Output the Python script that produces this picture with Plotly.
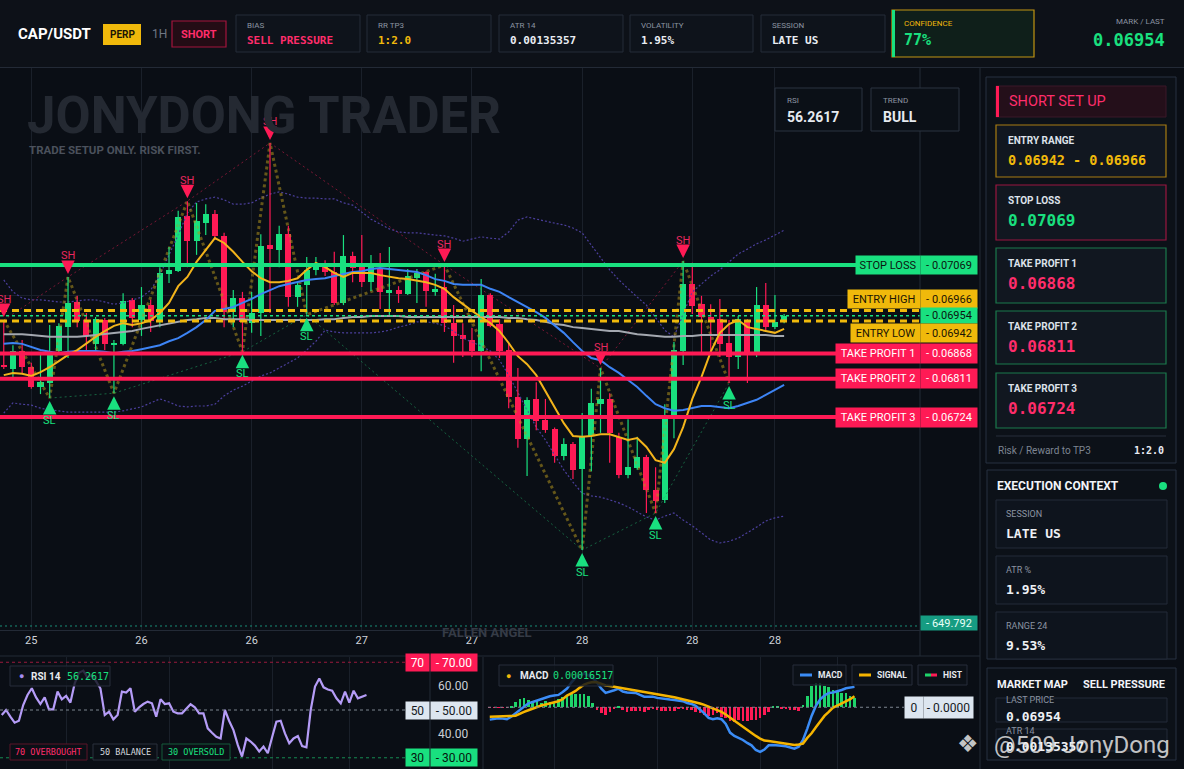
import plotly.graph_objects as go

W, H = 1184, 769
UI = "Roboto, 'Open Sans', sans-serif"
MONO = "'DejaVu Sans Mono', 'Liberation Mono', monospace"

# ---------------- data ----------------
date_tick_pos = [3, 15, 27, 39, 51, 63, 75, 84]
date_tick_text = ["25", "26", "26", "27", "27", "28", "28", "28"]
osc_tick_pos = [15, 39, 63, 81]

open_ = [0.06842, 0.06833, 0.06874, 0.06837, 0.06792, 0.06801, 0.06874, 0.06928, 0.06985, 0.06944,
         0.06890, 0.06944, 0.06889, 0.06890, 0.06990, 0.06944, 0.06978, 0.06940, 0.07049, 0.07055,
         0.07180, 0.07124, 0.07164, 0.07185, 0.07135, 0.06962, 0.06994, 0.06937, 0.06960, 0.07114,
         0.07103, 0.07139, 0.06996, 0.07024, 0.07058, 0.07069, 0.07053, 0.06983, 0.07089, 0.07064,
         0.07030, 0.07062, 0.07005, 0.07012, 0.07003, 0.07039, 0.07053, 0.07008, 0.07019, 0.06937,
         0.06910, 0.06899, 0.06874, 0.07001, 0.06935, 0.06876, 0.06769, 0.06674, 0.06765, 0.06717,
         0.06697, 0.06635, 0.06663, 0.06606, 0.06681, 0.06753, 0.06765, 0.06679, 0.06592, 0.06608,
         0.06633, 0.06558, 0.06536, 0.06719, 0.06874, 0.07026, 0.06980, 0.06951, 0.06946, 0.06892,
         0.06860, 0.06940, 0.06869, 0.06978, 0.06928, 0.06940]
high_ = [0.06944, 0.06887, 0.06899, 0.06847, 0.06872, 0.06933, 0.06937, 0.07042, 0.06999, 0.06960,
         0.06951, 0.06949, 0.06899, 0.07005, 0.06994, 0.07019, 0.06990, 0.07064, 0.07110, 0.07192,
         0.07214, 0.07210, 0.07207, 0.07194, 0.07142, 0.07012, 0.07008, 0.07008, 0.07139, 0.07346,
         0.07158, 0.07158, 0.07028, 0.07087, 0.07087, 0.07080, 0.07099, 0.07137, 0.07099, 0.07137,
         0.07092, 0.07096, 0.07110, 0.07021, 0.07060, 0.07060, 0.07055, 0.07049, 0.07069, 0.06978,
         0.06937, 0.06926, 0.07037, 0.07005, 0.06946, 0.06892, 0.06835, 0.06769, 0.06803, 0.06765,
         0.06700, 0.06676, 0.06667, 0.06733, 0.06788, 0.06835, 0.06778, 0.06688, 0.06719, 0.06679,
         0.06638, 0.06610, 0.06753, 0.06894, 0.07078, 0.07074, 0.06999, 0.06980, 0.06992, 0.06944,
         0.06953, 0.06946, 0.07019, 0.07028, 0.07001, 0.06958]
low_ = [0.06833, 0.06813, 0.06824, 0.06788, 0.06776, 0.06767, 0.06869, 0.06858, 0.06928, 0.06876,
        0.06869, 0.06876, 0.06778, 0.06887, 0.06928, 0.06908, 0.06917, 0.06928, 0.07028, 0.07053,
        0.07064, 0.07092, 0.07137, 0.07126, 0.06928, 0.06928, 0.06872, 0.06915, 0.06908, 0.06960,
        0.07064, 0.06974, 0.06974, 0.06956, 0.07046, 0.07044, 0.06978, 0.06978, 0.07030, 0.07019,
        0.07010, 0.06969, 0.06951, 0.06983, 0.07001, 0.06983, 0.06974, 0.06999, 0.06917, 0.06847,
        0.06860, 0.06860, 0.06828, 0.06928, 0.06858, 0.06744, 0.06654, 0.06590, 0.06694, 0.06688,
        0.06620, 0.06626, 0.06583, 0.06422, 0.06601, 0.06688, 0.06620, 0.06585, 0.06585, 0.06604,
        0.06506, 0.06506, 0.06529, 0.06676, 0.06842, 0.06958, 0.06869, 0.06869, 0.06860, 0.06801,
        0.06833, 0.06801, 0.06860, 0.06921, 0.06924, 0.06937]
close_ = [0.06837, 0.06874, 0.06837, 0.06792, 0.06803, 0.06872, 0.06931, 0.06983, 0.06942, 0.06908,
          0.06946, 0.06890, 0.06891, 0.06987, 0.06949, 0.06978, 0.06942, 0.07051, 0.07058, 0.07178,
          0.07124, 0.07169, 0.07185, 0.07135, 0.06962, 0.06994, 0.06940, 0.06960, 0.07112, 0.07105,
          0.07139, 0.06996, 0.07024, 0.07058, 0.07069, 0.07053, 0.06983, 0.07089, 0.07062, 0.07030,
          0.07064, 0.07008, 0.07012, 0.07003, 0.07044, 0.07051, 0.07010, 0.07015, 0.06937, 0.06908,
          0.06901, 0.06874, 0.07001, 0.06931, 0.06874, 0.06769, 0.06674, 0.06763, 0.06715, 0.06694,
          0.06635, 0.06663, 0.06604, 0.06679, 0.06756, 0.06765, 0.06688, 0.06592, 0.06610, 0.06633,
          0.06558, 0.06533, 0.06719, 0.06876, 0.07026, 0.06976, 0.06951, 0.06944, 0.06890, 0.06860,
          0.06946, 0.06869, 0.06978, 0.06928, 0.06940, 0.06954]
volume = [2916, 2430, 2106, 2268, 3888, 4374, 2592, 4860, 2754, 1944,
          2592, 1944, 3078, 3564, 1944, 2754, 2268, 3078, 4374, 5346,
          6156, 5184, 4374, 4698, 7452, 4374, 3240, 2916, 7938, 16362,
          3564, 5184, 1944, 2430, 1782, 1620, 2592, 4212, 1944, 3564,
          1782, 3240, 3240, 1296, 1620, 2268, 1458, 2268, 3726, 3888,
          1944, 2268, 4050, 1944, 2430, 3726, 4374, 5184, 2592, 2106,
          2106, 2268, 2592, 11340, 6642, 6156, 4050, 2268, 3402, 1620,
          3240, 3240, 4860, 3888, 6156, 6318, 5184, 3402, 2592, 4860,
          2106, 2754, 2754, 2916, 1620, 649.792]
ema_fast = [0.06819, 0.06824, 0.06822, 0.06817, 0.06826, 0.06837, 0.06851, 0.06865, 0.06876, 0.06892,
            0.06906, 0.06919, 0.06931, 0.06937, 0.06933, 0.06937, 0.06944, 0.06960, 0.06983, 0.07021,
            0.07042, 0.07076, 0.07103, 0.07130, 0.07119, 0.07099, 0.07076, 0.07055, 0.07039, 0.07030,
            0.07030, 0.07033, 0.07039, 0.07058, 0.07074, 0.07064, 0.07051, 0.07042, 0.07051, 0.07051,
            0.07051, 0.07046, 0.07042, 0.07039, 0.07037, 0.07033, 0.07030, 0.07024, 0.07015, 0.06996,
            0.06980, 0.06965, 0.06951, 0.06937, 0.06919, 0.06892, 0.06862, 0.06844, 0.06819, 0.06783,
            0.06744, 0.06710, 0.06681, 0.06679, 0.06681, 0.06685, 0.06685, 0.06679, 0.06672, 0.06676,
            0.06656, 0.06626, 0.06620, 0.06651, 0.06701, 0.06765, 0.06815, 0.06872, 0.06915, 0.06935,
            0.06944, 0.06928, 0.06924, 0.06919, 0.06915, 0.06924]
ema_slow = [0.06890, 0.06892, 0.06890, 0.06883, 0.06876, 0.06872, 0.06869, 0.06872, 0.06874, 0.06874,
            0.06874, 0.06872, 0.06869, 0.06872, 0.06874, 0.06878, 0.06883, 0.06887, 0.06896, 0.06903,
            0.06915, 0.06928, 0.06944, 0.06965, 0.06969, 0.06974, 0.06983, 0.06992, 0.07003, 0.07012,
            0.07021, 0.07026, 0.07030, 0.07035, 0.07037, 0.07039, 0.07044, 0.07049, 0.07053, 0.07055,
            0.07060, 0.07062, 0.07060, 0.07058, 0.07055, 0.07053, 0.07046, 0.07037, 0.07033, 0.07026,
            0.07024, 0.07024, 0.07024, 0.07015, 0.07008, 0.06996, 0.06985, 0.06974, 0.06962, 0.06949,
            0.06931, 0.06915, 0.06894, 0.06874, 0.06858, 0.06853, 0.06837, 0.06824, 0.06808, 0.06792,
            0.06772, 0.06753, 0.06744, 0.06738, 0.06740, 0.06744, 0.06749, 0.06749, 0.06747, 0.06744,
            0.06749, 0.06756, 0.06763, 0.06774, 0.06785, 0.06797]
sma_long = [0.06912, 0.06912, 0.06912, 0.06910, 0.06908, 0.06906, 0.06906, 0.06906, 0.06906, 0.06908,
            0.06910, 0.06912, 0.06915, 0.06917, 0.06919, 0.06924, 0.06928, 0.06931, 0.06935, 0.06940,
            0.06944, 0.06946, 0.06949, 0.06949, 0.06946, 0.06946, 0.06946, 0.06944, 0.06944, 0.06944,
            0.06944, 0.06944, 0.06944, 0.06944, 0.06944, 0.06946, 0.06946, 0.06949, 0.06951, 0.06951,
            0.06953, 0.06953, 0.06953, 0.06953, 0.06951, 0.06951, 0.06951, 0.06951, 0.06951, 0.06951,
            0.06951, 0.06951, 0.06951, 0.06951, 0.06951, 0.06949, 0.06949, 0.06946, 0.06944, 0.06940,
            0.06935, 0.06933, 0.06928, 0.06926, 0.06924, 0.06921, 0.06919, 0.06919, 0.06915, 0.06912,
            0.06910, 0.06908, 0.06906, 0.06906, 0.06908, 0.06908, 0.06910, 0.06910, 0.06910, 0.06910,
            0.06910, 0.06910, 0.06910, 0.06910, 0.06908, 0.06908]
bb_upper = [0.07035, 0.07008, 0.06994, 0.06990, 0.06990, 0.06987, 0.06985, 0.06985, 0.06987, 0.06990,
            0.06990, 0.06985, 0.06980, 0.06983, 0.06990, 0.06996, 0.07012, 0.07046, 0.07092, 0.07137,
            0.07187, 0.07212, 0.07219, 0.07223, 0.07217, 0.07207, 0.07207, 0.07210, 0.07221, 0.07230,
            0.07235, 0.07230, 0.07223, 0.07221, 0.07221, 0.07219, 0.07219, 0.07210, 0.07205, 0.07189,
            0.07173, 0.07162, 0.07151, 0.07144, 0.07142, 0.07142, 0.07139, 0.07137, 0.07135, 0.07130,
            0.07123, 0.07128, 0.07133, 0.07130, 0.07128, 0.07144, 0.07171, 0.07178, 0.07173, 0.07169,
            0.07164, 0.07160, 0.07153, 0.07142, 0.07114, 0.07087, 0.07058, 0.07035, 0.07015, 0.06996,
            0.06978, 0.06949, 0.06921, 0.06906, 0.06956, 0.07008, 0.07026, 0.07044, 0.07058, 0.07076,
            0.07094, 0.07105, 0.07117, 0.07126, 0.07137, 0.07148]
bb_lower = [0.06733, 0.06756, 0.06753, 0.06751, 0.06744, 0.06740, 0.06738, 0.06735, 0.06735, 0.06735,
            0.06735, 0.06735, 0.06735, 0.06738, 0.06742, 0.06747, 0.06756, 0.06765, 0.06758, 0.06749,
            0.06747, 0.06749, 0.06749, 0.06753, 0.06772, 0.06785, 0.06794, 0.06806, 0.06817, 0.06824,
            0.06835, 0.06847, 0.06858, 0.06876, 0.06896, 0.06921, 0.06917, 0.06915, 0.06915, 0.06915,
            0.06915, 0.06917, 0.06921, 0.06928, 0.06933, 0.06940, 0.06940, 0.06937, 0.06931, 0.06919,
            0.06903, 0.06894, 0.06885, 0.06874, 0.06853, 0.06819, 0.06781, 0.06740, 0.06701, 0.06672,
            0.06638, 0.06604, 0.06576, 0.06551, 0.06545, 0.06542, 0.06536, 0.06529, 0.06520, 0.06508,
            0.06497, 0.06490, 0.06499, 0.06506, 0.06490, 0.06477, 0.06461, 0.06445, 0.06438, 0.06442,
            0.06449, 0.06461, 0.06474, 0.06488, 0.06495, 0.06499]
rsi_14 = [47.9, 50.0, 47.2, 44.7, 45.5, 52.1, 56.3, 59.1, 55.3, 52.5,
          55.3, 50.3, 50.3, 57.7, 54.5, 55.9, 53.1, 61.2, 65.6, 66.5,
          63.5, 64.6, 62.0, 59.0, 47.9, 49.3, 46.1, 47.9, 57.7, 57.3,
          59.1, 49.3, 51.1, 52.5, 53.5, 52.8, 47.2, 54.5, 52.5, 52.8,
          49.3, 48.6, 48.6, 50.7, 52.4, 51.1, 48.6, 48.6, 42.3, 40.5,
          38.8, 38.1, 50.0, 45.4, 41.6, 35.4, 30.5, 38.1, 36.8, 35.1,
          32.6, 34.7, 31.9, 38.6, 45.1, 45.5, 40.2, 36.1, 38.1, 39.1,
          34.9, 34.4, 50.0, 59.8, 63.2, 59.5, 58.6, 58.1, 54.9, 52.8,
          57.7, 53.1, 58.1, 54.9, 55.6, 56.2617]
macd_line = [-1.00e-4, -0.92e-4, -0.89e-4, -0.92e-4, -0.97e-4, -0.76e-4, -0.49e-4, -0.24e-4, 0.05e-4, 0.32e-4,
             0.43e-4, 0.54e-4, 0.65e-4, 0.81e-4, 0.89e-4, 0.95e-4, 1.00e-4, 1.24e-4, 1.51e-4, 2.00e-4,
             2.40e-4, 2.57e-4, 2.75e-4, 2.59e-4, 2.40e-4, 2.00e-4, 1.51e-4, 1.16e-4, 1.24e-4, 1.38e-4,
             1.51e-4, 1.27e-4, 1.19e-4, 1.19e-4, 1.16e-4, 1.00e-4, 0.86e-4, 0.86e-4, 0.86e-4, 0.76e-4,
             0.70e-4, 0.65e-4, 0.62e-4, 0.59e-4, 0.54e-4, 0.49e-4, 0.35e-4, 0.27e-4, 0.11e-4, -0.16e-4,
             -0.49e-4, -0.86e-4, -0.97e-4, -0.89e-4, -0.97e-4, -1.35e-4, -2.05e-4, -2.32e-4, -2.48e-4, -2.65e-4,
             -2.89e-4, -3.08e-4, -3.46e-4, -3.62e-4, -3.43e-4, -3.08e-4, -3.05e-4, -3.05e-4, -3.11e-4, -3.16e-4,
             -3.24e-4, -3.35e-4, -3.19e-4, -2.65e-4, -1.73e-4, -0.70e-4, 0.11e-4, 0.65e-4, 0.95e-4, 1.16e-4,
             1.19e-4, 1.27e-4, 1.40e-4, 1.54e-4, 1.59e-4, 1.6517e-4]
macd_signal = [-0.76e-4, -0.76e-4, -0.76e-4, -0.76e-4, -0.73e-4, -0.70e-4, -0.68e-4, -0.51e-4, -0.38e-4, -0.24e-4,
               -0.11e-4, 0.03e-4, 0.14e-4, 0.22e-4, 0.30e-4, 0.41e-4, 0.49e-4, 0.65e-4, 0.95e-4, 1.13e-4,
               1.32e-4, 1.59e-4, 1.84e-4, 1.97e-4, 2.05e-4, 2.03e-4, 1.89e-4, 1.76e-4, 1.73e-4, 1.67e-4,
               1.62e-4, 1.57e-4, 1.51e-4, 1.46e-4, 1.38e-4, 1.32e-4, 1.24e-4, 1.16e-4, 1.11e-4, 1.08e-4,
               1.03e-4, 0.97e-4, 0.89e-4, 0.81e-4, 0.73e-4, 0.65e-4, 0.59e-4, 0.51e-4, 0.41e-4, 0.30e-4,
               0.19e-4, 0.05e-4, -0.14e-4, -0.24e-4, -0.38e-4, -0.59e-4, -0.84e-4, -1.08e-4, -1.35e-4, -1.62e-4,
               -1.84e-4, -2.08e-4, -2.32e-4, -2.54e-4, -2.70e-4, -2.73e-4, -2.78e-4, -2.81e-4, -2.86e-4, -2.94e-4,
               -3.00e-4, -3.05e-4, -3.02e-4, -2.94e-4, -2.48e-4, -2.11e-4, -1.62e-4, -1.16e-4, -0.70e-4, -0.38e-4,
               -0.03e-4, 0.14e-4, 0.32e-4, 0.46e-4, 0.65e-4, 0.89e-4]
macd_hist = [-0.05e-4, -0.05e-4, -0.05e-4, -0.05e-4, -0.05e-4, 0.08e-4, 0.46e-4, 0.65e-4, 0.73e-4, 0.59e-4,
             0.54e-4, 0.59e-4, 0.32e-4, 0.54e-4, 0.46e-4, 0.46e-4, 0.65e-4, 0.86e-4, 1.00e-4, 1.05e-4,
             1.08e-4, 1.08e-4, 1.08e-4, 0.95e-4, 0.32e-4, -0.22e-4, -0.43e-4, -0.62e-4, -0.35e-4, -0.16e-4,
             0.11e-4, -0.22e-4, -0.35e-4, -0.27e-4, -0.27e-4, -0.27e-4, -0.35e-4, -0.22e-4, -0.16e-4, -0.22e-4,
             -0.30e-4, -0.27e-4, -0.30e-4, -0.30e-4, -0.16e-4, -0.16e-4, -0.22e-4, -0.22e-4, -0.35e-4, -0.49e-4,
             -0.62e-4, -0.70e-4, -0.62e-4, -0.49e-4, -0.76e-4, -0.89e-4, -1.08e-4, -1.16e-4, -1.03e-4, -1.08e-4,
             -1.08e-4, -1.03e-4, -1.03e-4, -0.89e-4, -0.62e-4, -0.35e-4, 0.05e-4, 0.11e-4, -0.16e-4, -0.16e-4,
             -0.22e-4, -0.22e-4, -0.27e-4, 0.19e-4, 0.92e-4, 1.73e-4, 2.00e-4, 1.94e-4, 1.73e-4, 1.62e-4,
             1.40e-4, 1.35e-4, 1.19e-4, 1.13e-4, 0.92e-4, 0.76e-4]
swing_high_idx = [0, 7, 20, 29, 48, 65, 74]
swing_low_idx = [5, 12, 26, 33, 63, 71, 79]

stop_loss = 0.07069
entry_high = 0.06966
entry_low = 0.06942
last_price = 0.06954
take_profits = [0.06868, 0.06811, 0.06724]
last_volume = 649.792
rsi_value = 56.2617
macd_value = 0.00016517

# ---------------- styling ----------------
BG = "#0a0e15"
GRID = "#1a202a"
BORDER = "#242c38"
GREEN = "#19e07f"
RED = "#ff1a55"
PINK = "#ff2d6b"
YELLOW = "#f0b90b"
GREEN_VOL = "#0c5a4c"
RED_VOL = "#84212f"
GRAYTXT = "#8b93a1"

X_RANGE = [-0.41, 99.8]
MAIN_R = 920

def px(x):
    return x / W

def py(y):
    return 1 - y / H

idx = list(range(len(open_)))
up = [c >= o for o, c in zip(open_, close_)]

fig = go.Figure()

# volume (drawn first = underneath)
fig.add_trace(go.Bar(x=idx, y=volume, xaxis="x", yaxis="y", width=0.8,
                     marker=dict(color=[GREEN_VOL if u else RED_VOL for u in up], line_width=0),
                     hoverinfo="skip", showlegend=False))

# bollinger bands
for band in (bb_upper, bb_lower):
    fig.add_trace(go.Scatter(x=idx, y=band, xaxis="x", yaxis="y2", mode="lines",
                             line=dict(color="#4b3f9c", width=1.2, dash="2px,2px"),
                             hoverinfo="skip", showlegend=False))

# swing trendlines
fig.add_trace(go.Scatter(x=swing_high_idx, y=[high_[i] for i in swing_high_idx], xaxis="x", yaxis="y2",
                         mode="lines", line=dict(color="rgba(150,25,60,0.8)", width=1, dash="2px,3px"),
                         hoverinfo="skip", showlegend=False))
fig.add_trace(go.Scatter(x=swing_low_idx, y=[low_[i] for i in swing_low_idx], xaxis="x", yaxis="y2",
                         mode="lines", line=dict(color="rgba(25,120,75,0.8)", width=1, dash="2px,3px"),
                         hoverinfo="skip", showlegend=False))
pivots = sorted([(i, high_[i]) for i in swing_high_idx] + [(i, low_[i]) for i in swing_low_idx])
fig.add_trace(go.Scatter(x=[p[0] for p in pivots], y=[p[1] for p in pivots], xaxis="x", yaxis="y2",
                         mode="lines", line=dict(color="rgba(175,145,30,0.55)", width=3, dash="3px,3px"),
                         hoverinfo="skip", showlegend=False))

# candle wicks
for flag, col in ((True, GREEN), (False, RED)):
    wx, wy = [], []
    for i in idx:
        if up[i] == flag:
            wx += [i, i, None]
            wy += [low_[i], high_[i], None]
    fig.add_trace(go.Scatter(x=wx, y=wy, xaxis="x", yaxis="y2", mode="lines",
                             line=dict(color=col, width=1.2), hoverinfo="skip", showlegend=False))

# candle bodies
fig.add_trace(go.Bar(x=idx, y=[abs(c - o) for o, c in zip(open_, close_)],
                     base=[min(o, c) for o, c in zip(open_, close_)],
                     xaxis="x", yaxis="y2", width=0.66,
                     marker=dict(color=[GREEN if u else RED for u in up], line_width=0),
                     hoverinfo="skip", showlegend=False))

# moving averages
fig.add_trace(go.Scatter(x=idx, y=sma_long, xaxis="x", yaxis="y2", mode="lines",
                         line=dict(color="#a4a8b0", width=2), hoverinfo="skip", showlegend=False))
fig.add_trace(go.Scatter(x=idx, y=ema_slow, xaxis="x", yaxis="y2", mode="lines",
                         line=dict(color="#3d84f5", width=2), hoverinfo="skip", showlegend=False))
fig.add_trace(go.Scatter(x=idx, y=ema_fast, xaxis="x", yaxis="y2", mode="lines",
                         line=dict(color="#f3b41b", width=2), hoverinfo="skip", showlegend=False))

# RSI
fig.add_trace(go.Scatter(x=idx, y=rsi_14, xaxis="x2", yaxis="y3", mode="lines",
                         line=dict(color="#b59cf7", width=2.2), hoverinfo="skip", showlegend=False))

# MACD
fig.add_trace(go.Bar(x=idx, y=macd_hist, xaxis="x3", yaxis="y4", width=0.6,
                     marker=dict(color=["#1ed46a" if v >= 0 else RED for v in macd_hist], line_width=0),
                     hoverinfo="skip", showlegend=False))
fig.add_trace(go.Scatter(x=idx, y=macd_line, xaxis="x3", yaxis="y4", mode="lines",
                         line=dict(color="#3b8cf6", width=2.5), hoverinfo="skip", showlegend=False))
fig.add_trace(go.Scatter(x=idx, y=macd_signal, xaxis="x3", yaxis="y4", mode="lines",
                         line=dict(color="#f5b400", width=2.5), hoverinfo="skip", showlegend=False))

shapes = []
ann = []

def rect(x0, y0, x1, y1, fill="rgba(0,0,0,0)", line=None, lw=1, layer="above"):
    shapes.append(dict(type="rect", xref="paper", yref="paper", x0=px(x0), x1=px(x1), y0=py(y1), y1=py(y0),
                       fillcolor=fill, layer=layer,
                       line=dict(color=line if line else "rgba(0,0,0,0)", width=lw if line else 0)))

def hline_px(x0, x1, y, color, w=1, dash=None):
    shapes.append(dict(type="line", xref="paper", yref="paper", x0=px(x0), x1=px(x1), y0=py(y), y1=py(y),
                       line=dict(color=color, width=w, dash=dash)))

def vline_px(x, y0, y1, color, w=1):
    shapes.append(dict(type="line", xref="paper", yref="paper", x0=px(x), x1=px(x), y0=py(y0), y1=py(y1),
                       line=dict(color=color, width=w)))

def text(x, y, s, size=10, color="#ffffff", family=UI, xanchor="left", yanchor="middle"):
    ann.append(dict(x=px(x), y=py(y), xref="paper", yref="paper", text=s, showarrow=False,
                    font=dict(size=size, color=color, family=family), xanchor=xanchor, yanchor=yanchor))

def tag(x_left, width, yval, yref, s, bg, fg, size=11, height=18, yshift=0, family=UI):
    ann.append(dict(x=px(x_left), y=yval, xref="paper", yref=yref, text=s, showarrow=False,
                    xanchor="left", yanchor="middle", yshift=yshift, width=width, height=height,
                    align="center", valign="middle", bgcolor=bg, borderpad=0,
                    font=dict(size=size, color=fg, family=family)))

# ---------------- price levels ----------------
def level_line(y, color, w, dash=None):
    shapes.append(dict(type="line", xref="paper", yref="y2", x0=0, x1=px(MAIN_R), y0=y, y1=y,
                       line=dict(color=color, width=w, dash=dash), layer="above"))

level_line(stop_loss, GREEN, 4)
for tp in take_profits:
    level_line(tp, RED, 4)
level_line(entry_high, YELLOW, 3, "7px,5px")
level_line(entry_low, YELLOW, 3, "7px,5px")
level_line(last_price, GREEN, 1.5, "3px,3px")
shapes.append(dict(type="line", xref="paper", yref="y", x0=0, x1=px(MAIN_R), y0=last_volume, y1=last_volume,
                   line=dict(color="#1a8f78", width=1, dash="2px,3px")))

DARK = "#0b1510"
tag(855, 64, stop_loss, "y2", "STOP LOSS", GREEN, DARK)
tag(847, 72, entry_high, "y2", "ENTRY HIGH", YELLOW, "#1a1405", yshift=11)
tag(850, 69, entry_low, "y2", "ENTRY LOW", YELLOW, "#1a1405", yshift=-12)
for k, tp in enumerate(take_profits):
    tag(835, 84, tp, "y2", "TAKE PROFIT %d" % (k + 1), RED, "#ffffff", height=19)
tag(920, 56, stop_loss, "y2", "- %.5f" % stop_loss, GREEN, DARK)
tag(920, 56, entry_high, "y2", "- %.5f" % entry_high, YELLOW, "#1a1405", yshift=11)
tag(920, 56, last_price, "y2", "- %.5f" % last_price, GREEN, DARK, height=15)
tag(920, 56, entry_low, "y2", "- %.5f" % entry_low, YELLOW, "#1a1405", yshift=-12)
for tp in take_profits:
    tag(920, 56, tp, "y2", "- %.5f" % tp, RED, "#ffffff", height=19)
tag(920, 56, last_volume, "y", "- %.3f" % last_volume, "#169c82", "#e8fff8", size=11, height=14, yshift=3)

# swing markers
for i in swing_high_idx:
    ann.append(dict(x=i, y=high_[i], xref="x", yref="y2", text="SH", showarrow=True, ax=0, ay=-21,
                    arrowhead=2, arrowsize=0.9, arrowwidth=3, arrowcolor=RED, standoff=3,
                    font=dict(size=11, color="#e8285e", family=UI)))
for i in swing_low_idx:
    ann.append(dict(x=i, y=low_[i], xref="x", yref="y2", text="SL", showarrow=True, ax=0, ay=22,
                    arrowhead=2, arrowsize=0.9, arrowwidth=3, arrowcolor=GREEN, standoff=3,
                    font=dict(size=11, color=GREEN, family=UI)))

# ---------------- frame / panels ----------------
rect(0, 0, W, 67, fill="#0d1118")
hline_px(0, W, 67.5, "#232a36")
hline_px(0, 980, 656, "#232a36")
vline_px(MAIN_R, 68, 656, "#232a36")
vline_px(980, 68, 769, "#232a36")
vline_px(430, 657, 769, "#232a36")
vline_px(483, 657, 769, "#232a36")

# header
text(16, 34, "<b>CAP/USDT</b>", 15, "#ffffff")
rect(103, 24, 141, 45, fill=YELLOW)
text(122, 34.5, "<b>PERP</b>", 10, "#1b1505", xanchor="center")
text(150, 34, "1H", 12, "#6f7784")
rect(172, 21, 226, 47, fill="#230c15", line="#a3143d", lw=1.2)
text(199, 34, "<b>SHORT</b>", 11, PINK, xanchor="center")

cards = [(236, 360, "BIAS", "SELL PRESSURE", PINK),
         (367, 491, "RR TP3", "1:2.0", YELLOW),
         (499, 623, "ATR 14", "0.00135357", "#e9edf3"),
         (630, 753, "VOLATILITY", "1.95%", "#e9edf3"),
         (761, 885, "SESSION", "LATE US", "#e9edf3")]
for x0, x1, lab, val, col in cards:
    rect(x0, 15, x1, 52, fill="#0e131b", line=BORDER)
    text(x0 + 9, 26, lab, 8, GRAYTXT)
    text(x0 + 9, 40.5, "<b>%s</b>" % val, 11, col, MONO)

rect(892, 10, 1034, 57, fill="#0f1f1a", line="#c29512", lw=1.2)
rect(892, 10, 895, 57, fill=GREEN)
text(902, 23, "CONFIDENCE", 8, YELLOW)
text(902, 40, "<b>77%</b>", 15, GREEN, MONO)
text(1167, 22, "MARK / LAST", 8, GRAYTXT, xanchor="right")
text(1167, 40, "<b>%.5f</b>" % last_price, 17, GREEN, MONO, xanchor="right")

# main watermark
text(25, 115, "<b>JONYDONG TRADER</b>", 51, "#242932")
text(27, 150, "<b>TRADE SETUP ONLY. RISK FIRST.</b>", 11.5, "#4b515c")
text(487, 632, "<b>FALLEN ANGEL</b>", 13, "#353b46", xanchor="center")

# RSI / TREND boxes
for x0, x1, lab, val in ((775, 862, "RSI", "%.4f" % rsi_value), (871, 959, "TREND", "BULL")):
    rect(x0, 88, x1, 131, fill="#0b1017", line="#2a3340")
    text(x0 + 10, 101, lab, 8, GRAYTXT)
    text(x0 + 10, 117, "<b>%s</b>" % val, 14, "#e6eaf0")

# right panel: short set up
rect(986, 77, 1176, 463, fill="#0c1118", line="#263040")
rect(996, 86, 1166, 117, fill="#240f1a", line="#3a1828")
rect(996, 86, 999, 117, fill=RED)
text(1007, 101.5, "SHORT SET UP", 14.5, PINK)
setup = [(125, 177, "ENTRY RANGE", "%.5f - %.5f" % (entry_low, entry_high), YELLOW, "#a77c12", 13.5),
         (185, 240, "STOP LOSS", "%.5f" % stop_loss, GREEN, "#9a1640", 16),
         (248, 303, "TAKE PROFIT 1", "%.5f" % take_profits[0], PINK, "#1b7a4c", 16),
         (311, 364, "TAKE PROFIT 2", "%.5f" % take_profits[1], PINK, "#1b7a4c", 16),
         (373, 428, "TAKE PROFIT 3", "%.5f" % take_profits[2], PINK, "#1b7a4c", 16)]
for y0, y1, lab, val, col, bcol, fs in setup:
    rect(996, y0, 1166, y1, fill="#111720", line=bcol, lw=1.2)
    text(1006, y0 + 15, "<b>%s</b>" % lab, 10, "#dde2ea")
    text(1006, y0 + 35, "<b>%s</b>" % val, fs, col, MONO)
hline_px(996, 1166, 436, "#262e3b")
text(996, 450, "Risk / Reward to TP3", 10, "#7d8592")
text(1166, 450, "<b>1:2.0</b>", 10, "#e8ecf2", MONO, xanchor="right")

# execution context
rect(987, 470, 1176, 659, fill="#0c1118", line="#263040")
text(995, 486, "<b>EXECUTION CONTEXT</b>", 12, "#f2f4f8")
shapes.append(dict(type="circle", xref="paper", yref="paper", x0=px(1159), x1=px(1167), y0=py(490), y1=py(482),
                   fillcolor=GREEN, line=dict(width=0)))
for y0, lab, val in ((500, "SESSION", "LATE US"), (556, "ATR %", "1.95%"), (612, "RANGE 24", "9.53%")):
    rect(996, y0, 1167, min(y0 + 48, 659), fill="#0e141d", line="#232b38")
    text(1004, y0 + 14, lab, 9, GRAYTXT)
    text(1004, y0 + 33, "<b>%s</b>" % val, 13, "#eef1f5", MONO)

# market map
rect(987, 668, 1176, 760, fill="#0c1118", line="#263040")
text(995, 684, "<b>MARKET MAP</b>", 11, "#f2f4f8")
text(1167, 684, "<b>SELL PRESSURE</b>", 11, "#f2f4f8", xanchor="right")
rect(996, 698, 1167, 722, fill="#0e141d", line="#232b38")
text(1004, 700, "LAST PRICE", 9, GRAYTXT)
text(1004, 716, "<b>%.5f</b>" % last_price, 13, "#eef1f5", MONO)
rect(996, 729, 1167, 751, fill="#0e141d", line="#232b38")
text(1004, 731, "ATR 14", 9, GRAYTXT)
text(1004, 746, "<b>0.00135357</b>", 13, "#eef1f5", MONO)
text(968, 744, "❖", 24, "rgba(230,230,230,0.85)", "DejaVu Sans", xanchor="center")
text(992, 745, "@509 JonyDong", 24, "rgba(235,235,235,0.82)")

# ---------------- RSI panel decorations ----------------
def osc_line(yref, y, x0, x1, color, dash="3px,3px"):
    shapes.append(dict(type="line", xref="paper", yref=yref, x0=px(x0), x1=px(x1), y0=y, y1=y,
                       line=dict(color=color, width=1, dash=dash)))

osc_line("y3", 70, 0, 405, "#9a1a3c")
osc_line("y3", 50, 0, 405, "#7d8590")
osc_line("y3", 30, 0, 405, "#178a52")
for lv, bg, fg in ((70, RED, "#ffffff"), (50, "#dde6f0", "#141922"), (30, GREEN, "#06150d")):
    tag(405, 23, lv, "y3", str(lv), bg, fg, size=12, height=17)
    tag(430, 46, lv, "y3", "- %.2f" % lv, bg, fg, size=12, height=17)
for lv in (60, 40):
    ann.append(dict(x=px(453), y=lv, xref="paper", yref="y3", text="%.2f" % lv, showarrow=False,
                    xanchor="center", yanchor="middle", font=dict(size=12, color="#c9ced6", family=UI)))
rect(10, 666, 110, 686, fill="rgba(13,18,26,0.82)", line="#262d3a")
text(21, 676, "●", 9, "#a58cf0", xanchor="center")
text(29, 676, "<b>RSI 14</b>", 10, "#e6e9ee")
text(65, 676, "%.4f" % rsi_value, 10, GREEN, MONO)
for x0, x1, s, col, bcol in ((10, 87, "70 OVERBOUGHT", PINK, "#5a1428"),
                             (93, 157, "50 BALANCE", "#d4d8df", "#2a313c"),
                             (162, 230, "30 OVERSOLD", GREEN, "#145a3a")):
    rect(x0, 744, x1, 760, fill="#0b0f16", line=bcol)
    text((x0 + x1) / 2, 752, s, 8.5, col, MONO, xanchor="center")

# ---------------- MACD panel decorations ----------------
osc_line("y4", 0, 488, 904, "#7d8590")
tag(904, 18, 0, "y4", "0", "#dde6f0", "#141922", size=12, height=21)
tag(923, 49, 0, "y4", "- 0.0000", "#dde6f0", "#141922", size=12, height=21)
rect(499, 665, 613, 686, fill="rgba(13,18,26,0.82)", line="#262d3a")
text(508, 675.5, "●", 9, YELLOW, xanchor="center")
text(518, 675.5, "<b>MACD</b>", 10, "#e6e9ee")
text(551, 675.5, "%.8f" % macd_value, 10, GREEN, MONO)
for x0, x1, lab, c1, c2 in ((793, 846, "MACD", "#3b8cf6", "#3b8cf6"),
                            (852, 912, "SIGNAL", "#f5b400", "#f5b400"),
                            (918, 967, "HIST", "#1ed46a", RED)):
    rect(x0, 665, x1, 685, fill="rgba(13,18,26,0.82)", line="#262d3a")
    hline_px(x0 + 7, x0 + 13, 675, c1, 3)
    hline_px(x0 + 13, x0 + 19, 675, c2, 3)
    text(x0 + 23, 675, "<b>%s</b>" % lab, 8.5, "#e6e9ee")

# ---------------- layout ----------------
axis_common = dict(range=X_RANGE, zeroline=False, showgrid=True, gridcolor=GRID, gridwidth=1,
                   fixedrange=True)
fig.update_layout(
    width=W, height=H, margin=dict(l=0, r=0, t=0, b=0),
    paper_bgcolor=BG, plot_bgcolor=BG, barmode="overlay", bargap=0, showlegend=False,
    xaxis=dict(domain=[0, px(MAIN_R)], anchor="y", tickmode="array", tickvals=date_tick_pos,
               ticktext=date_tick_text, ticks="", showline=True, linecolor="#232a36",
               tickfont=dict(size=11, color="#cfd3da", family=UI), **axis_common),
    yaxis=dict(domain=[py(630), py(520)], anchor="x", range=[0, 17820], visible=False, fixedrange=True),
    yaxis2=dict(domain=[py(630), py(68)], anchor="x", range=[0.062405, 0.075162], showticklabels=False,
                tickmode="array", tickvals=[0.0700], showgrid=True, gridcolor=GRID, zeroline=False,
                fixedrange=True),
    xaxis2=dict(domain=[0, px(430)], anchor="y3", tickmode="array", tickvals=osc_tick_pos,
                showticklabels=False, ticks="", **axis_common),
    yaxis3=dict(domain=[0, py(657)], anchor="x2", range=[25.3, 72.2], showticklabels=False,
                showgrid=False, zeroline=False, fixedrange=True),
    xaxis3=dict(domain=[px(488), px(918)], anchor="y4", tickmode="array", tickvals=osc_tick_pos,
                showticklabels=False, ticks="", **axis_common),
    yaxis4=dict(domain=[0, py(657)], anchor="x3", range=[-0.000500, 0.000407], showticklabels=False,
                showgrid=False, zeroline=False, fixedrange=True),
    shapes=shapes, annotations=ann,
)

fig.write_html("out.html", config={"displayModeBar": False},
               post_script="document.body.style.margin='0px';document.body.style.overflow='hidden';")
